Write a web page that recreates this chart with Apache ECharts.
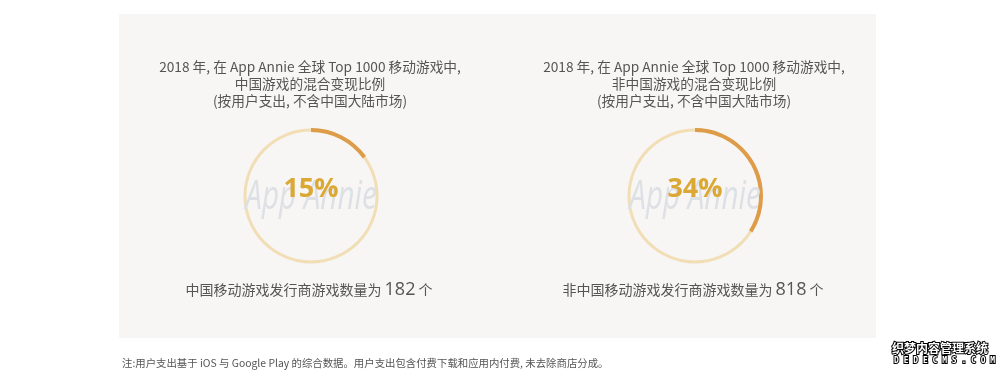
<!DOCTYPE html>
<html><head><meta charset="utf-8">
<script src="https://cdn.jsdelivr.net/npm/echarts@6/dist/echarts.min.js"></script>
<style>html,body{margin:0;padding:0;background:#fff}#c{width:1000px;height:376px}</style>
</head><body><div id="c"></div>
<script>
const titles = [
  "2018 年, 在 App Annie 全球 Top 1000 移动游戏中,\n中国游戏的混合变现比例\n(按用户支出, 不含中国大陆市场)",
  "2018 年, 在 App Annie 全球 Top 1000 移动游戏中,\n非中国游戏的混合变现比例\n(按用户支出, 不含中国大陆市场)"
];
const percents = [15, 34];
const counts = [182, 818];
const countLabels = ["中国移动游戏发行商游戏数量为", "非中国移动游戏发行商游戏数量为"];
const note = "注:用户支出基于 iOS 与 Google Play 的综合数据。用户支出包含付费下载和应用内付费, 未去除商店分成。";

const centersX = [311, 695];
const cy = 196;
const font = '"Noto Sans CJK SC", "Noto Sans", sans-serif';
const chart = echarts.init(document.getElementById('c'));

const series = [];
const graphic = [
  {type:'rect', shape:{x:119,y:14,width:757,height:324}, style:{fill:'#f7f6f4'}, z:-10}
];
percents.forEach((p, i) => {
  const cx = centersX[i];
  series.push({
    type:'pie', center:[cx, cy], radius:[64.5, 67.5], silent:true, label:{show:false},
    itemStyle:{color:'#f1deb5'}, data:[{value:1}], z:1
  });
  series.push({
    type:'pie', center:[cx, cy], radius:[64, 68], startAngle:90, clockwise:true, silent:true,
    label:{show:false}, z:2,
    data:[{value:p, itemStyle:{color:'#de9c48'}}, {value:100-p, itemStyle:{color:'rgba(0,0,0,0)'}}]
  });
  graphic.push({type:'text', x:cx, y:cy+2, scaleX:0.74, z:3,
    style:{text:'App Annie', font:'italic 40px "Open Sans", sans-serif', fill:'#dde0e4', align:'center', verticalAlign:'middle'}});
  graphic.push({type:'text', x:cx, y:cy-7, z:4,
    style:{text:p+'%', font:'bold 27px "Open Sans", sans-serif', fill:'#dba835', align:'center', verticalAlign:'middle'}});
  graphic.push({type:'text', x:cx-1, y:84, z:4,
    style:{text:titles[i], font:'13.7px '+font, fill:'#555', align:'center', verticalAlign:'middle', lineHeight:17}});
  graphic.push({type:'text', x:cx-2, y:290, z:4,
    style:{rich:{a:{font:'14px '+font, fill:'#555'}, b:{font:'18px "Open Sans", sans-serif', fill:'#555'}},
      text:'{a|'+countLabels[i]+' }{b|'+counts[i]+'}{a| 个}', align:'center', verticalAlign:'middle'}});
});
graphic.push({type:'text', left:122, top:358,
  style:{text:note, font:'10.4px '+font, fill:'#555'}});
graphic.push({type:'text', left:891, top:341,
  style:{text:'织梦内容管理系统', font:'bold 12px '+font, fill:'#fff', stroke:'#000', lineWidth:2}});
graphic.push({type:'text', left:893, top:356,
  style:{text:'D E D E C M S . C O M', font:'bold 8px "DejaVu Sans Mono", monospace', fill:'#fff', stroke:'#000', lineWidth:2}});

chart.setOption({animation:false, series, graphic});
</script></body></html>
